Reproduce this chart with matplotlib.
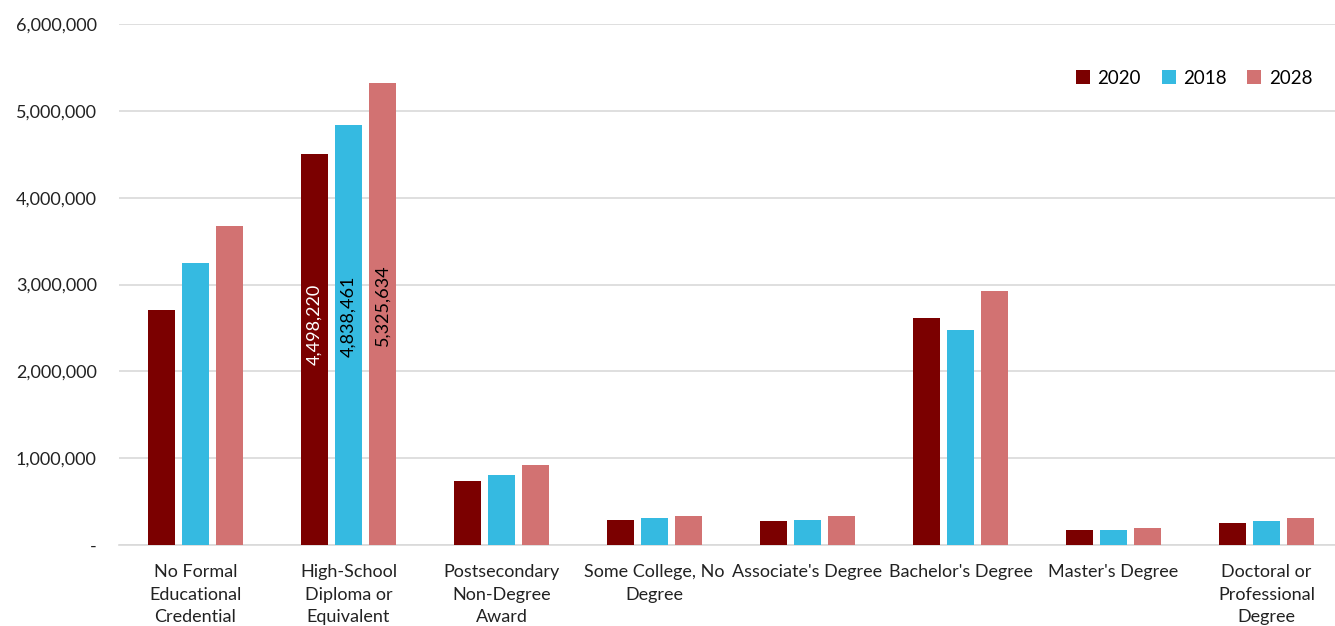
import matplotlib
matplotlib.use("Agg")
import matplotlib.pyplot as plt
import numpy as np

plt.rcParams['font.family'] = ['Lato', 'DejaVu Sans']

categories = [
    "No Formal\nEducational\nCredential",
    "High-School\nDiploma or\nEquivalent",
    "Postsecondary\nNon-Degree\nAward",
    "Some College, No\nDegree",
    "Associate's Degree",
    "Bachelor's Degree",
    "Master's Degree",
    "Doctoral or\nProfessional\nDegree",
]
series_names = ["2020", "2018", "2028"]
values_2020 = [2706000, 4498220, 733000, 288000, 280000, 2614000, 176000, 253000]
values_2018 = [3248000, 4838461, 803000, 307000, 288000, 2476000, 169000, 276000]
values_2028 = [3674000, 5325634, 921000, 334000, 334000, 2925000, 196000, 307000]
labelled_group = 1  # only the high-school bars carry value labels

colors = ["#7B0000", "#35BAE1", "#D27272"]
label_colors = ["white", "black", "black"]
label_pos = [0.566, 0.545, 0.519]  # label centre as a share of bar height

fig = plt.figure(figsize=(13.35, 6.26), dpi=100)
ax = fig.add_axes([119 / 1335, 81 / 626, 1224 / 1335, 521 / 626])

x = np.arange(len(categories))
step = 0.222
width = 0.176
for i, (name, vals) in enumerate(zip(series_names, [values_2020, values_2018, values_2028])):
    ax.bar(x + (i - 1) * step, vals, width, color=colors[i], label=name, zorder=3)
    v = vals[labelled_group]
    ax.text(labelled_group + (i - 1) * step, v * label_pos[i], f"{v:,}",
            rotation=90, ha="center", va="center", fontsize=13,
            color=label_colors[i], zorder=4)

ax.set_xlim(-0.5, len(categories) - 0.5)
ax.set_ylim(0, 6000000)
ax.set_yticks(np.arange(0, 6000001, 1000000))
ax.set_yticklabels(["-"] + [f"{t:,}" for t in range(1000000, 6000001, 1000000)])
ax.set_xticks(x)
ax.set_xticklabels(categories, linespacing=1.5)
ax.tick_params(axis="both", length=0, labelsize=13, colors="#222222")
ax.tick_params(axis="y", pad=16)
ax.tick_params(axis="x", pad=14)
for lbl in ax.get_xticklabels():
    lbl.set_verticalalignment("top")

ax.grid(axis="y", color="#d9d9d9", linewidth=1.2, zorder=0)
for side in ["top", "right", "left"]:
    ax.spines[side].set_visible(False)
ax.spines["bottom"].set_color("#d9d9d9")
ax.spines["bottom"].set_linewidth(1.2)

ax.legend(loc="upper left", bbox_to_anchor=(0.768, 0.945), ncol=3, frameon=False,
          fontsize=13.5, handlelength=0.75, handleheight=0.75, handletextpad=0.4,
          columnspacing=1.1)

fig.savefig("out.png", dpi=100, facecolor="white")
